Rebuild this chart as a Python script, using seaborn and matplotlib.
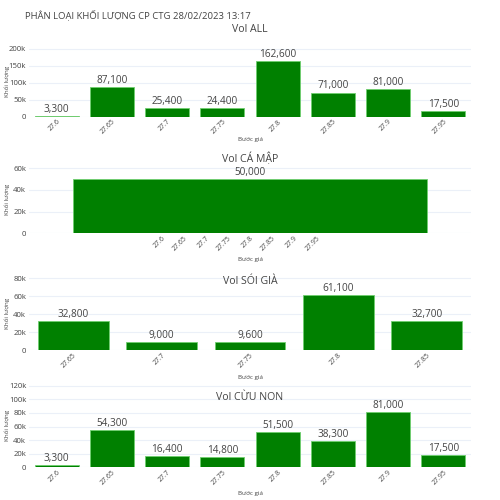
import matplotlib
matplotlib.use("Agg")
import matplotlib.pyplot as plt
import seaborn as sns
import pandas as pd

# ---- data ----
all_prices = ["27.6", "27.65", "27.7", "27.75", "27.8", "27.85", "27.9", "27.95"]
all_vols = [3300, 87100, 25400, 24400, 162600, 71000, 81000, 17500]

camap_price = [27.8]
camap_vols = [50000]
camap_ticks = [27.6, 27.65, 27.7, 27.75, 27.8, 27.85, 27.9, 27.95]
camap_ticklabels = ["27.6", "27.65", "27.7", "27.75", "27.8", "27.85", "27.9", "27.95"]

soigia_prices = ["27.65", "27.7", "27.75", "27.8", "27.85"]
soigia_vols = [32800, 9000, 9600, 61100, 32700]

cuunon_prices = ["27.6", "27.65", "27.7", "27.75", "27.8", "27.85", "27.9", "27.95"]
cuunon_vols = [3300, 54300, 16400, 14800, 51500, 38300, 81000, 17500]

main_title = "PHÂN LOẠI KHỐI LƯỢNG CP CTG 28/02/2023 13:17"
sub_titles = ["Vol ALL", "Vol CÁ MẬP", "Vol SÓI GIÀ", "Vol CỪU NON"]
xlabel = "Bước giá"
ylabel = "Khối lượng"

sns.set_theme(style="white")
plt.rcParams["font.family"] = ["Open Sans", "DejaVu Sans"]

TXT = "#444444"
GRID = "#ebf0f8"
BAR = "#008000"
EDGE = "#6fcf6f"

W = H = 500
fig = plt.figure(figsize=(5, 5), dpi=100)

def px_axes(left, top, right, bottom):
    return fig.add_axes([left / W, 1 - bottom / H, (right - left) / W, (bottom - top) / H])

def kfmt(v):
    return "0" if v == 0 else f"{int(v/1000)}k"

def style(ax, ylim, yticks):
    ax.set_ylim(*ylim)
    ax.set_yticks(yticks)
    ax.set_yticklabels([kfmt(v) for v in yticks], fontsize=5.6, color=TXT)
    ax.grid(axis="y", color=GRID, lw=0.8)
    ax.set_axisbelow(True)
    for s in ax.spines.values():
        s.set_visible(False)
    ax.tick_params(axis="both", length=0, pad=2)
    ax.tick_params(axis="x", pad=1)
    for lab in ax.get_xticklabels():
        lab.set_rotation(45)
        lab.set_ha("right")
        lab.set_va("top")
        lab.set_rotation_mode("anchor")
        lab.set_fontsize(5.0)
        lab.set_color(TXT)
    ax.set_xlabel("")
    ax.set_ylabel("")

def label_bars(ax, xs, vals, ylim):
    off = (ylim[1] - ylim[0]) * 0.015
    for x, v in zip(xs, vals):
        ax.text(x, v + off, f"{v:,}", ha="center", va="bottom", fontsize=7.2, color=TXT)

panels = [
    (45.3, 116.7, (0, 210000), [0, 50000, 100000, 150000, 200000]),
    (166.1, 233.3, (0, 62000), [0, 20000, 40000, 60000]),
    (276.5, 350.3, (0, 82000), [0, 20000, 40000, 60000, 80000]),
    (384.4, 467.3, (0, 122000), [0, 20000, 40000, 60000, 80000, 100000, 120000]),
]
title_y = [29, 159, 281, 397]
xlab_y = [139, 259, 377, 494]

L, R = 29, 471

# panel 1
top, bot, ylim, yt = panels[0]
ax1 = px_axes(L, top, R, bot)
df1 = pd.DataFrame({"price": all_prices, "vol": all_vols})
sns.barplot(data=df1, x="price", y="vol", order=all_prices, ax=ax1, color=BAR,
            saturation=1, width=0.8, edgecolor=EDGE, linewidth=0.6)
ax1.set_xlim(-0.5, len(all_prices) - 0.5)
style(ax1, ylim, yt)
label_bars(ax1, range(len(all_vols)), all_vols, ylim)

# panel 2
top, bot, ylim, yt = panels[1]
ax2 = px_axes(L, top, R, bot)
df2 = pd.DataFrame({"price": camap_price, "vol": camap_vols})
sns.barplot(data=df2, x="price", y="vol", native_scale=True, ax=ax2, color=BAR,
            saturation=1, width=0.8, edgecolor=EDGE, linewidth=0.6)
ax2.set_xlim(27.3, 28.3)
ax2.set_xticks(camap_ticks)
ax2.set_xticklabels(camap_ticklabels)
style(ax2, ylim, yt)
label_bars(ax2, camap_price, camap_vols, ylim)

# panel 3
top, bot, ylim, yt = panels[2]
ax3 = px_axes(L, top, R, bot)
df3 = pd.DataFrame({"price": soigia_prices, "vol": soigia_vols})
sns.barplot(data=df3, x="price", y="vol", order=soigia_prices, ax=ax3, color=BAR,
            saturation=1, width=0.8, edgecolor=EDGE, linewidth=0.6)
ax3.set_xlim(-0.5, len(soigia_prices) - 0.5)
style(ax3, ylim, yt)
label_bars(ax3, range(len(soigia_vols)), soigia_vols, ylim)

# panel 4
top, bot, ylim, yt = panels[3]
ax4 = px_axes(L, top, R, bot)
df4 = pd.DataFrame({"price": cuunon_prices, "vol": cuunon_vols})
sns.barplot(data=df4, x="price", y="vol", order=cuunon_prices, ax=ax4, color=BAR,
            saturation=1, width=0.8, edgecolor=EDGE, linewidth=0.6)
ax4.set_xlim(-0.5, len(cuunon_prices) - 0.5)
style(ax4, ylim, yt)
label_bars(ax4, range(len(cuunon_vols)), cuunon_vols, ylim)

# texts
fig.text(25 / W, 1 - 15 / H, main_title, ha="left", va="center", fontsize=6.8, color=TXT)
for (top, bot, _, _), ty, xy, st in zip(panels, title_y, xlab_y, sub_titles):
    fig.text(250 / W, 1 - ty / H, st, ha="center", va="center", fontsize=7.6, color=TXT)
    fig.text(250 / W, 1 - xy / H, xlabel, ha="center", va="center", fontsize=4.5, color=TXT)
    fig.text(7 / W, 1 - ((top + bot) / 2) / H, ylabel, ha="center", va="center",
             rotation=90, fontsize=4.5, color=TXT)

fig.savefig("out.png", dpi=100, facecolor="white")
